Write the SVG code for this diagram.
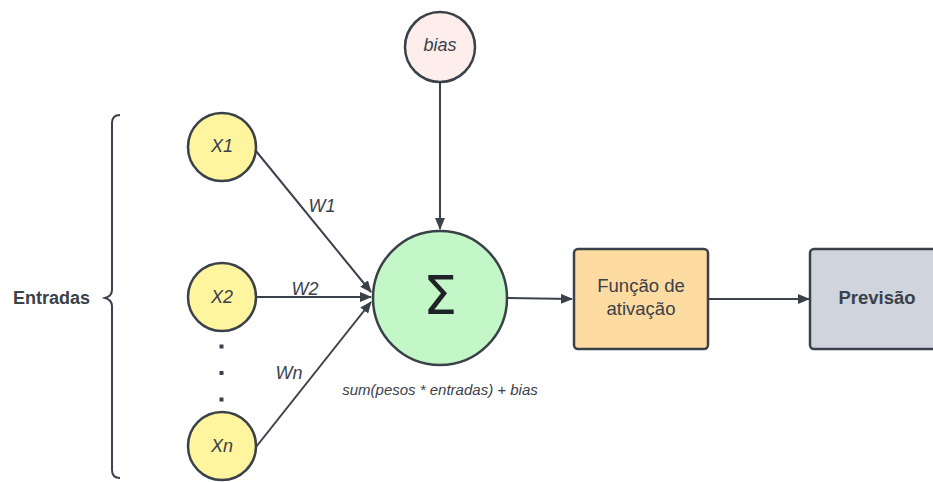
<svg xmlns="http://www.w3.org/2000/svg" width="933" height="482" viewBox="0 0 933 482">
  <style>
    .node { stroke: #3a414a; stroke-width: 2.5; }
    .in { fill: #fff59f; }
    .lbl { font-family: "Liberation Sans", Arial, sans-serif; fill: #3a414a; }
    .it { font-style: italic; font-size: 18px; }
    .edge { stroke: #3a414a; stroke-width: 2; fill: none; marker-end: url(#arrow); }
  </style>
  <defs>
    <marker id="arrow" viewBox="0 0 12 10" refX="11" refY="5" markerWidth="12" markerHeight="10" markerUnits="userSpaceOnUse" orient="auto">
      <path d="M0,0 L12,5 L0,10 Z" fill="#3a414a"/>
    </marker>
  </defs>
  <rect width="933" height="482" fill="#ffffff"/>

  <g id="entradas">
    <path d="M120,115 Q112,115 112,123 L112,290 Q112,296 105,298 Q112,300 112,306 L112,470 Q112,478 120,478" fill="none" stroke="#3a414a" stroke-width="2"/>
    <text class="lbl" x="51.5" y="304" font-size="18" font-weight="bold" text-anchor="middle">Entradas</text>
  </g>

  <g id="edges">
    <line class="edge" x1="256" y1="151" x2="371" y2="292"/>
    <line class="edge" x1="256" y1="297" x2="371" y2="297"/>
    <line class="edge" x1="256" y1="447" x2="371" y2="302"/>
    <line class="edge" x1="440" y1="82" x2="440" y2="229"/>
    <line class="edge" x1="508" y1="298" x2="572" y2="299"/>
    <line class="edge" x1="708" y1="299" x2="809" y2="299"/>
    <text class="lbl it" x="322" y="212" text-anchor="middle">W1</text>
    <text class="lbl it" x="305" y="295" text-anchor="middle">W2</text>
    <text class="lbl it" x="289" y="379" text-anchor="middle">Wn</text>
  </g>

  <g id="x1">
    <circle class="node in" cx="222" cy="147" r="34"/>
    <text class="lbl it" x="222" y="152" text-anchor="middle">X1</text>
  </g>
  <g id="x2">
    <circle class="node in" cx="222" cy="297" r="34"/>
    <text class="lbl it" x="222" y="303" text-anchor="middle">X2</text>
  </g>
  <g id="dots" fill="#3a414a">
    <rect x="219.5" y="344.5" width="4" height="4"/>
    <rect x="219.5" y="371" width="4" height="4"/>
    <rect x="219.5" y="397.5" width="4" height="4"/>
  </g>
  <g id="xn">
    <circle class="node in" cx="222" cy="446" r="34"/>
    <text class="lbl it" x="222" y="452" text-anchor="middle">Xn</text>
  </g>

  <g id="bias">
    <circle class="node" cx="440" cy="47" r="35" fill="#fdeeec"/>
    <text class="lbl it" x="440" y="51" text-anchor="middle">bias</text>
  </g>

  <g id="soma">
    <circle class="node" cx="440" cy="298" r="67" fill="#c3f7c8"/>
    <text x="440" y="314" font-family="DejaVu Sans, sans-serif" font-size="54" fill="#1f2328" text-anchor="middle">Σ</text>
    <text class="lbl" x="440" y="395" font-size="15" font-style="italic" text-anchor="middle" fill="#1f2328">sum(pesos * entradas) + bias</text>
  </g>

  <g id="ativacao">
    <rect class="node" x="574" y="249" width="134" height="100" rx="4" fill="#fedba0"/>
    <text class="lbl" x="641" y="292" font-size="18.5" text-anchor="middle">Função de</text>
    <text class="lbl" x="641" y="315" font-size="18.5" text-anchor="middle">ativação</text>
  </g>

  <g id="previsao">
    <rect class="node" x="810" y="249" width="135" height="100" rx="4" fill="#cfd4dd"/>
    <text class="lbl" x="877" y="304" font-size="18.5" font-weight="bold" text-anchor="middle">Previsão</text>
  </g>
</svg>
